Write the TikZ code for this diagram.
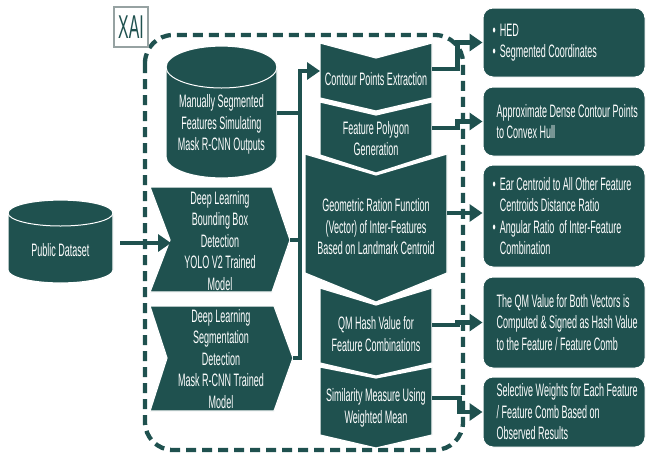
\documentclass[tikz,border=0pt]{standalone}
\usepackage{fontspec}
\setmainfont{Liberation Sans}[FakeStretch=0.5]
\newfontfamily\xaifont{Liberation Sans}[FakeStretch=0.48]
\usetikzlibrary{arrows.meta,calc}
\definecolor{teal0}{RGB}{31,81,79}
\definecolor{xaigray}{RGB}{150,162,162}
\tikzset{
  tealfill/.style={fill=teal0, draw=white, line width=1.2pt},
  txt/.style={text=white, font=\fontsize{18}{21.5}\selectfont, align=center, inner sep=0pt},
  btxt/.style={text=white, font=\fontsize{18}{21.5}\selectfont, align=left, inner sep=0pt, anchor=west},
  conn/.style={draw=teal0, line width=4.5pt},
  arr/.style={conn, -{Triangle[length=13pt,width=17pt]}},
  rbox/.style={fill=teal0, draw=white, line width=1pt, rounded corners=10pt, minimum width=162pt, inner sep=0pt},
}
\newcommand{\chevdn}[6]{%
  \path[tealfill] (#1,#3) -- ({(#1+#2)/2},{#3+#4}) -- (#2,#3) -- (#2,#5) -- ({(#1+#2)/2},{#5+#6}) -- (#1,#5) -- cycle;}
\newcommand{\cylshape}[5]{%
  \path[tealfill] (#1,#3) -- (#1,#4) arc[start angle=180,end angle=0,x radius={(#2-#1)/2},y radius=#5] -- (#2,#3) arc[start angle=0,end angle=-180,x radius={(#2-#1)/2},y radius=#5] -- cycle;
  \draw[white,line width=1pt] (#1,#3) arc[start angle=180,end angle=0,x radius={(#2-#1)/2},y radius=#5];}
\newcommand{\bul}{\textbullet\hspace{4pt}}
\begin{document}
\begin{tikzpicture}[x=1pt,y=-1pt]
\useasboundingbox (0,0) rectangle (647,456);

% dashed XAI region
\draw[teal0, line width=4.3pt, dash pattern=on 10pt off 6pt, rounded corners=28pt] (145,35) rectangle (463,450);
\node[draw=xaigray, line width=1.3pt, fill=white, minimum width=34pt, minimum height=40pt, inner sep=0pt,
      text=teal0, font=\xaifont\fontsize{33}{33}\selectfont] (xai) at (131,27) {XAI};

% cylinders
\cylshape{8}{113}{213}{270}{13}
\node[txt, minimum width=105pt] (pd) at (60.5,250) {Public Dataset};
\cylshape{166}{277}{67}{157}{21}
\node[txt, minimum width=111pt] (cyl) at (221.5,124.5) {Manually Segmented\\Features Simulating\\Mask R-CNN Outputs};

% left chevrons
\path[tealfill] (150,187) -- (272,187) -- (290,240) -- (272,292) -- (150,292) -- (170,240) -- cycle;
\node[txt] (m1) at (220,241) {Deep Learning\\Bounding Box\\Detection\\YOLO V2 Trained\\Model};
\path[tealfill] (150,306) -- (274,306) -- (293,358) -- (274,411) -- (150,411) -- (167,358) -- cycle;
\node[txt] (m2) at (221,359) {Deep Learning\\Segmentation\\Detection\\Mask R-CNN Trained\\Model};

% central process chevrons
\chevdn{320}{432}{43}{15}{98}{13}
\chevdn{320}{432}{102}{13}{155}{18}
\chevdn{305}{447}{154}{21}{273}{29}
\chevdn{320}{432}{288}{17}{363}{13}
\chevdn{320}{432}{367}{11}{435}{13}
\node[txt] (c1) at (376,79) {Contour Points Extraction};
\node[txt] (c2) at (376,138.5) {Feature Polygon\\Generation};
\node[txt] (c3) at (376,227) {Geometric Ration Function\\(Vector) of Inter-Features\\Based on Landmark Centroid};
\node[txt] (c4) at (376,334) {QM Hash Value for\\Feature Combinations};
\node[txt] (c5) at (376,408) {Similarity Measure Using\\Weighted Mean};

% right boxes
\node[rbox, minimum height=69pt] (b1) at (564,42.5) {};
\node[rbox, minimum height=69pt] (b2) at (564,121.5) {};
\node[rbox, minimum height=102pt] (b3) at (564,216) {};
\node[rbox, minimum height=91pt] (b4) at (564,322.5) {};
\node[rbox, minimum height=70pt] (b5) at (564,412) {};
\node[btxt] (t1) at ([xshift=10pt]b1.west) {\bul HED\\\bul Segmented Coordinates};
\node[btxt] (t2) at ([xshift=14pt]b2.west) {Approximate Dense Contour Points\\to Convex Hull};
\node[btxt] (t3) at ([xshift=10pt]b3.west) {\bul Ear Centroid to All Other Feature\\\hphantom{\bul}Centroids Distance Ratio\\\bul Angular Ratio\ \ of Inter-Feature\\\hphantom{\bul}Combination};
\node[btxt] (t4) at ([xshift=14pt]b4.west) {The QM Value for Both Vectors is\\Computed \& Signed as Hash Value\\to the Feature / Feature Comb};
\node[btxt] (t5) at ([xshift=14pt]b5.west) {Selective Weights for Each Feature\\/ Feature Comb Based on\\Observed Results};

% connection points
\coordinate (pdout) at (120,243);
\coordinate (m1notch) at (171,243);
\coordinate (cylout) at (277,113);
\coordinate (m1tip) at (290,240);
\coordinate (m2tip) at (293,358);
\coordinate (busT) at (300,71);
\coordinate (busB) at (300,358);
\coordinate (c1in) at (320,71);
\coordinate (c1out) at (432,69);
\coordinate (c2out) at (432,128);
\coordinate (c3out) at (447,213);
\coordinate (c4out) at (432,325);
\coordinate (c5out) at (432,398);

% connectors
\draw[arr] (pdout) -- (m1notch);
\draw[conn] (cylout) -- (cylout -| busT);
\draw[conn] (m1tip) -- (m1tip -| busT);
\draw[arr] (m2tip) -- (busB) -- (busT) -- (c1in);
\draw[arr] (c1out) -| ([xshift=-25pt]b1.west) -- (b1.west);
\draw[arr] (c2out) -| ([xshift=-25pt]b2.west) -- (b2.west);
\draw[arr] (c3out) -- (c3out -| b3.west);
\draw[arr] (c4out) -| ([xshift=-25pt]b4.west) -- (b4.west);
\draw[arr] (c5out) -| ([xshift=-23pt]b5.west) -- (b5.west);
\end{tikzpicture}
\end{document}
